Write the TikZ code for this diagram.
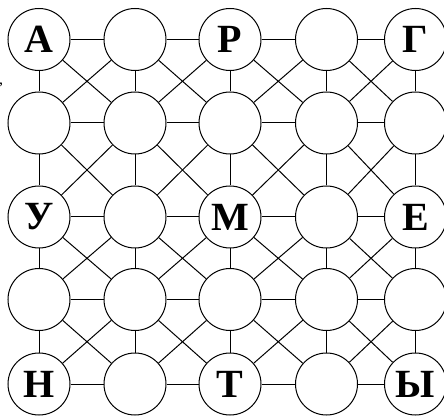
\documentclass[tikz,border=0pt]{standalone}
\usepackage{fontspec}
\setmainfont{Liberation Serif}
\begin{document}
\begin{tikzpicture}[x=1pt,y=1pt,
  cell/.style={circle,draw,line width=1pt,fill=white,minimum size=62pt,inner sep=0pt,
    font=\fontsize{40}{40}\selectfont\bfseries},
  link/.style={line width=1pt}]
\useasboundingbox (0,0) rectangle (444,415);
% row 0
\node[cell] (n00) at (39,375.5) {А};
\node[cell] (n01) at (135,375.5) {};
\node[cell] (n02) at (230,375.5) {Р};
\node[cell] (n03) at (326.5,375.5) {};
\node[cell] (n04) at (415.5,375.5) {Г};
% row 1
\node[cell] (n10) at (39,292) {};
\node[cell] (n11) at (135,292) {};
\node[cell] (n12) at (230,292) {};
\node[cell] (n13) at (326.5,292) {};
\node[cell] (n14) at (415.5,292) {};
% row 2
\node[cell] (n20) at (39,198) {У};
\node[cell] (n21) at (135,198) {};
\node[cell] (n22) at (230,198) {М};
\node[cell] (n23) at (326.5,198) {};
\node[cell] (n24) at (415.5,198) {Е};
% row 3
\node[cell] (n30) at (39,115.5) {};
\node[cell] (n31) at (135,115.5) {};
\node[cell] (n32) at (230,115.5) {};
\node[cell] (n33) at (326.5,115.5) {};
\node[cell] (n34) at (415.5,115.5) {};
% row 4
\node[cell] (n40) at (39,31) {Н};
\node[cell] (n41) at (135,31) {};
\node[cell] (n42) at (230,31) {Т};
\node[cell] (n43) at (326.5,31) {};
\node[cell] (n44) at (415.5,31) {Ы};
% stray comma
\node[font=\fontsize{16}{16}\selectfont, inner sep=0pt, anchor=west] (comma) at (-1,330) {,};
% horizontal links
\foreach \r in {0,...,4}
  \foreach \c in {0,...,3} {
    \pgfmathtruncatemacro{\d}{\c+1}
    \draw[link] (n\r\c) -- (n\r\d);
  }
% vertical links
\foreach \r in {0,...,3}
  \foreach \c in {0,...,4} {
    \pgfmathtruncatemacro{\s}{\r+1}
    \draw[link] (n\r\c) -- (n\s\c);
  }
% diagonal links
\foreach \r in {0,...,3}
  \foreach \c in {0,...,3} {
    \pgfmathtruncatemacro{\s}{\r+1}
    \pgfmathtruncatemacro{\d}{\c+1}
    \draw[link] (n\r\c) -- (n\s\d);
    \draw[link] (n\r\d) -- (n\s\c);
  }
\end{tikzpicture}
\end{document}
